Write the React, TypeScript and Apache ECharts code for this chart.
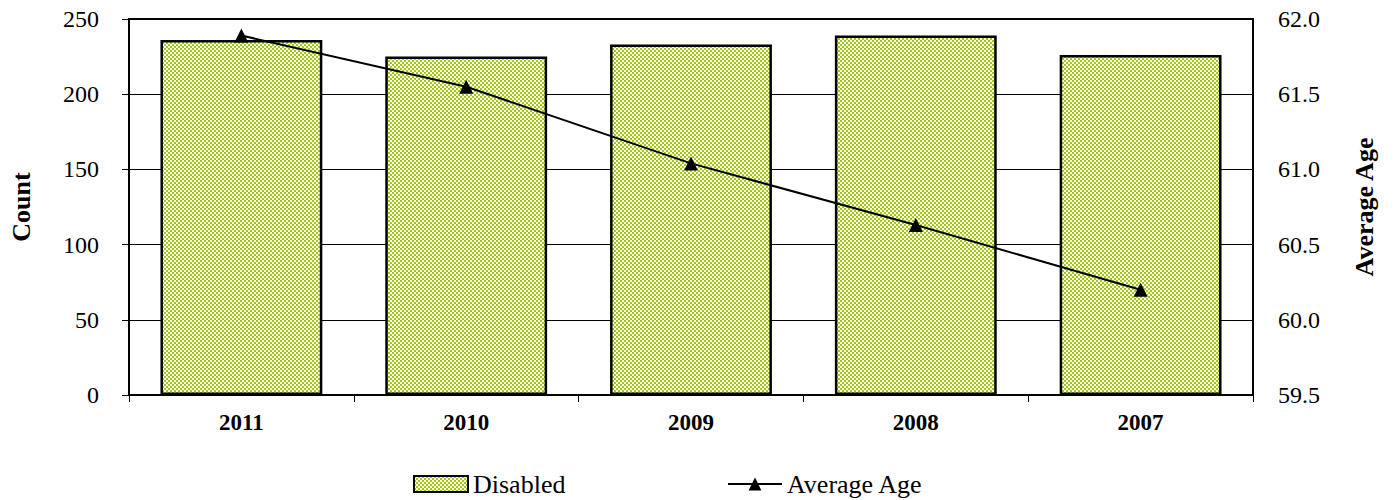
import React, { useEffect, useRef } from "react";
import * as echarts from "echarts";

const categories = ["2011", "2010", "2009", "2008", "2007"];
const disabledCounts = [236, 225, 233, 239, 226];
const averageAge = [61.89, 61.55, 61.04, 60.63, 60.2];
const countTicks = { min: 0, max: 250, interval: 50 };
const ageTicks = { min: 59.5, max: 62.0, interval: 0.5 };

function makePattern(): HTMLCanvasElement {
  const c = document.createElement("canvas");
  c.width = 4;
  c.height = 4;
  const ctx = c.getContext("2d")!;
  ctx.fillStyle = "#ffffff";
  ctx.fillRect(0, 0, 4, 4);
  ctx.fillStyle = "#9fcc00";
  for (let y = 0; y < 4; y++) {
    for (let x = 0; x < 4; x++) {
      if (((x >> 1) + (y >> 1)) % 2 === 0) ctx.fillRect(x, y, 1, 1);
    }
  }
  return c;
}

const FONT = "Liberation Serif";

export default function App() {
  const ref = useRef<HTMLDivElement>(null);
  useEffect(() => {
    document.body.style.margin = "0";
    const chart = echarts.init(ref.current!, null, { renderer: "svg" });
    const pattern = { image: makePattern(), repeat: "repeat" };
    const legendText = { fontFamily: FONT, fontSize: 26, color: "#000" };
    chart.setOption({
      animation: false,
      backgroundColor: "#ffffff",
      textStyle: { fontFamily: FONT, color: "#000" },
      grid: {
        left: 127,
        right: 142,
        top: 19,
        bottom: 105,
        show: true,
        borderColor: "#000",
        borderWidth: 2,
        backgroundColor: "transparent",
      },
      legend: [
        {
          left: 413,
          top: 471,
          padding: 0,
          itemWidth: 54,
          itemHeight: 16,
          itemGap: 6,
          textStyle: legendText,
          data: [
            { name: "Disabled", icon: "rect", itemStyle: { color: pattern as any, borderColor: "#000", borderWidth: 2 } },
          ],
        },
        {
          left: 727,
          top: 471,
          padding: 0,
          itemWidth: 54,
          itemHeight: 16,
          textStyle: legendText,
          data: [{ name: "Average Age" }],
        },
      ],
      xAxis: {
        type: "category",
        data: categories,
        axisLine: { show: true, lineStyle: { color: "#000", width: 2 } },
        axisTick: { show: true, length: 7, lineStyle: { color: "#000", width: 1 } },
        axisLabel: { fontFamily: FONT, fontSize: 23, fontWeight: "bold", color: "#000", margin: 16 },
      },
      yAxis: [
        {
          type: "value",
          min: countTicks.min,
          max: countTicks.max,
          interval: countTicks.interval,
          name: "Count",
          nameLocation: "middle",
          nameGap: 95,
          nameTextStyle: { fontFamily: FONT, fontSize: 26, fontWeight: "bold", color: "#000" },
          axisLine: { show: true, lineStyle: { color: "#000", width: 2 } },
          axisTick: { show: true, length: 7, lineStyle: { color: "#000", width: 1 } },
          axisLabel: { fontFamily: FONT, fontSize: 24, color: "#000", margin: 30 },
          splitLine: { show: true, lineStyle: { color: "#000", width: 1 } },
        },
        {
          type: "value",
          min: ageTicks.min,
          max: ageTicks.max,
          interval: ageTicks.interval,
          name: "Average Age",
          nameLocation: "middle",
          nameGap: 98,
          nameRotate: 90,
          nameTextStyle: { fontFamily: FONT, fontSize: 26, fontWeight: "bold", color: "#000" },
          axisLine: { show: true, lineStyle: { color: "#000", width: 2 } },
          axisTick: { show: false },
          axisLabel: {
            fontFamily: FONT,
            fontSize: 24,
            color: "#000",
            margin: 25,
            formatter: (v: number) => v.toFixed(1),
          },
          splitLine: { show: false },
        },
      ],
      series: [
        {
          name: "Disabled",
          type: "bar",
          data: disabledCounts,
          barCategoryGap: "28%",
          itemStyle: { color: pattern as any, borderColor: "#000", borderWidth: 2.5 },
        },
        {
          name: "Average Age",
          type: "line",
          yAxisIndex: 1,
          data: averageAge,
          symbol: "triangle",
          symbolSize: 14,
          lineStyle: { color: "#000", width: 2 },
          itemStyle: { color: "#000" },
        },
      ],
    });
    return () => chart.dispose();
  }, []);
  return <div ref={ref} style={{ width: 1395, height: 500 }} />;
}
